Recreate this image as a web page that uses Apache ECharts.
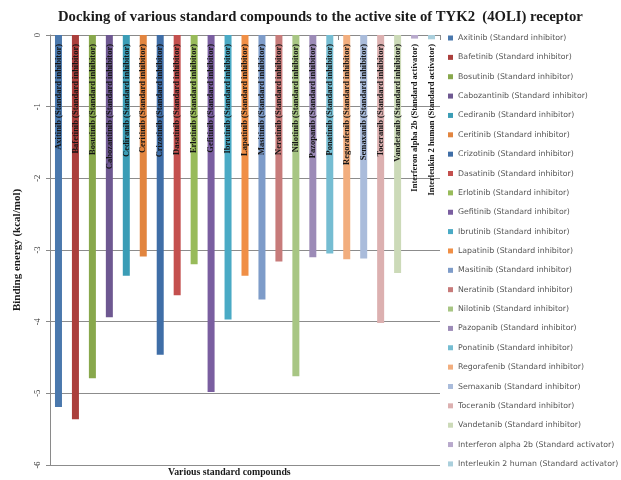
<!DOCTYPE html>
<html>
<head>
<meta charset="utf-8">
<script src="https://cdn.jsdelivr.net/npm/echarts@6/dist/echarts.min.js"></script>
<style>
  html, body { margin: 0; padding: 0; background: #ffffff; }
  #chart { width: 621px; height: 480px; }
</style>
</head>
<body>
<div id="chart"></div>
<script>
// Compounds docked to TYK2 (4OLI) and their binding energies (kcal/mol)
const compounds = [
  'Axitinib (Standard inhibitor)',
  'Bafetinib (Standard inhibitor)',
  'Bosutinib (Standard inhibitor)',
  'Cabozantinib (Standard inhibitor)',
  'Cediranib (Standard inhibitor)',
  'Ceritinib (Standard inhibitor)',
  'Crizotinib (Standard inhibitor)',
  'Dasatinib (Standard inhibitor)',
  'Erlotinib (Standard inhibitor)',
  'Gefitinib (Standard inhibitor)',
  'Ibrutinib (Standard inhibitor)',
  'Lapatinib (Standard inhibitor)',
  'Masitinib (Standard inhibitor)',
  'Neratinib (Standard inhibitor)',
  'Nilotinib (Standard inhibitor)',
  'Pazopanib (Standard inhibitor)',
  'Ponatinib (Standard inhibitor)',
  'Regorafenib (Standard inhibitor)',
  'Semaxanib (Standard inhibitor)',
  'Toceranib (Standard inhibitor)',
  'Vandetanib (Standard inhibitor)',
  'Interferon alpha 2b (Standard activator)',
  'Interleukin 2 human (Standard activator)'
];

const bindingEnergy = [
  -5.19, -5.36, -4.79, -3.94, -3.36, -3.09, -4.46, -3.63, -3.20, -4.98,
  -3.97, -3.36, -3.69, -3.16, -4.76, -3.10, -3.05, -3.13, -3.12, -4.02,
  -3.32, -0.05, -0.06
];

const barColors = [
  '#4a78ad', '#ab3f3c', '#88a84c', '#6e5891', '#3b9db6', '#e2853f',
  '#3f6ea7', '#c4504e', '#98bb5a', '#7a5ea0', '#4aaac5', '#f08f46',
  '#7e9cc9', '#c77b7a', '#a8c684', '#9c8bb7', '#75bdd2', '#f2ae7e',
  '#aabcdb', '#dcb0b0', '#ccdab8', '#b8a9cc', '#aacfdc'
];

const yTicks = { min: -6, max: 0, step: 1 };

const serif = 'Liberation Serif';

// one series per compound so each gets its own legend entry;
// each series only fills its own category slot
const series = compounds.map((name, i) => ({
  name: name,
  type: 'bar',
  stack: 'all',
  barWidth: 7,
  data: bindingEnergy.map((v, j) => (j === i ? v : '-')),
  itemStyle: { color: barColors[i] },
  label: {
    show: true,
    formatter: '{a}',
    position: 'insideTop',
    distance: 9,
    rotate: 90,
    align: 'right',
    verticalAlign: 'middle',
    fontFamily: serif,
    fontWeight: 'bold',
    fontSize: 8.5,
    color: '#141414'
  }
}));

const chart = echarts.init(document.getElementById('chart'), null, { renderer: 'canvas' });

chart.setOption({
  backgroundColor: '#ffffff',
  animation: false,
  title: {
    text: 'Docking of various standard compounds to the active site of TYK2  (4OLI) receptor',
    left: 53,
    top: 5,
    textStyle: {
      fontFamily: serif,
      fontWeight: 'bold',
      fontSize: 14.7,
      color: '#1a1a1a'
    }
  },
  legend: {
    type: 'plain',
    orient: 'vertical',
    left: 443,
    top: 28,
    icon: 'rect',
    itemWidth: 5,
    itemHeight: 5,
    itemGap: 9.36,
    data: compounds,
    textStyle: {
      fontFamily: 'DejaVu Sans',
      fontSize: 7.8,
      lineHeight: 10,
      color: '#555555'
    }
  },
  grid: {
    left: 50,
    right: 181,
    top: 35,
    bottom: 15,
    containLabel: false
  },
  xAxis: {
    type: 'category',
    data: compounds,
    axisLine: { onZero: true, lineStyle: { color: '#8a8a8a', width: 1 } },
    axisTick: { show: true, alignWithLabel: false, length: 5, lineStyle: { color: '#8a8a8a' } },
    axisLabel: { show: false },
    splitLine: { show: false }
  },
  yAxis: {
    type: 'value',
    min: yTicks.min,
    max: yTicks.max,
    interval: yTicks.step,
    name: 'Binding energy (kcal/mol)',
    nameLocation: 'middle',
    nameGap: 27,
    nameTextStyle: {
      fontFamily: serif,
      fontWeight: 'bold',
      fontSize: 11,
      color: '#1a1a1a'
    },
    axisLine: { show: true, lineStyle: { color: '#8a8a8a', width: 1 } },
    axisTick: { show: true, length: 4, lineStyle: { color: '#8a8a8a' } },
    axisLabel: {
      rotate: 90,
      margin: 8,
      fontFamily: serif,
      fontSize: 8.5,
      color: '#333333'
    },
    splitLine: { show: true, lineStyle: { color: '#8c8c8c', width: 1 } }
  },
  graphic: [{
    type: 'text',
    left: 168,
    top: 467,
    style: {
      text: 'Various standard compounds',
      font: 'bold 9.8px "Liberation Serif"',
      fill: '#1a1a1a'
    }
  }],
  series: series
});
</script>
</body>
</html>
